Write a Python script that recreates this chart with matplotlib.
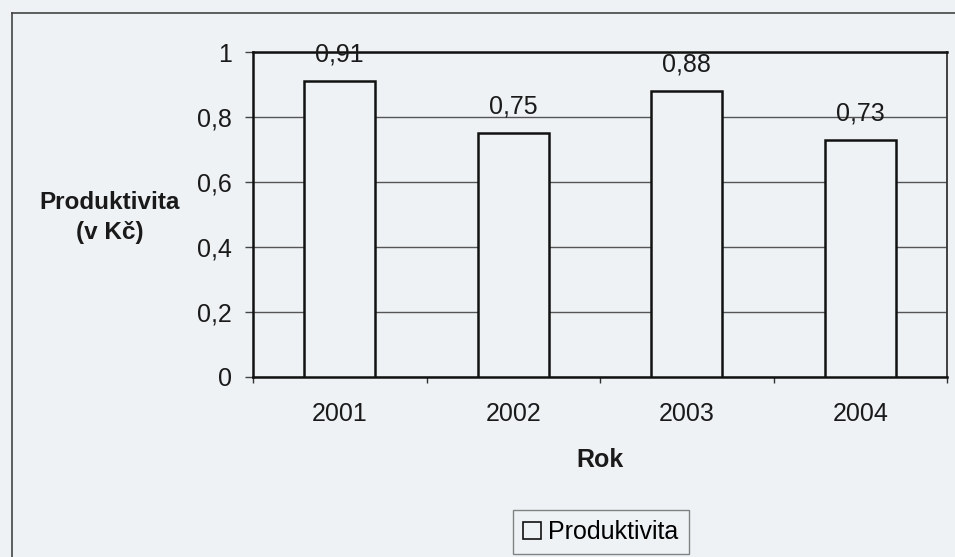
import matplotlib
matplotlib.use('Agg')
import matplotlib.pyplot as plt
from matplotlib.lines import Line2D
import numpy as np

# data
years = ['2001', '2002', '2003', '2004']
productivity = [0.91, 0.75, 0.88, 0.73]
y_ticks = [0, 0.2, 0.4, 0.6, 0.8, 1.0]
y_ticklabels = ['0', '0,2', '0,4', '0,6', '0,8', '1']
series_name = 'Produktivita'

bg = '#eef2f5'
plt.rcParams['font.family'] = ['Liberation Sans', 'DejaVu Sans']
fs = 18

W, H = 955, 557
fig = plt.figure(figsize=(W / 100, H / 100), dpi=100, facecolor=bg)
ax = fig.add_axes([253 / W, 1 - 377 / H, 694 / W, 325 / H], facecolor=bg)

x = np.arange(len(years))
bars = ax.bar(x, productivity, width=0.41, color=bg, edgecolor='#111111',
              linewidth=1.8, label=series_name, zorder=3)

# value labels above the bars
for xi, v in zip(x, productivity):
    ax.annotate(f'{v:.2f}'.replace('.', ','), (xi, v), xytext=(0, 14),
                textcoords='offset points', ha='center', va='baseline',
                fontsize=fs, color='#1a1a1a', zorder=4)

ax.set_xlim(-0.5, len(years) - 0.5)
ax.set_ylim(0, 1)
ax.set_yticks(y_ticks)
ax.set_yticklabels(y_ticklabels)
ax.set_xticks(x)
ax.set_xticklabels(years)
ax.set_xticks(np.arange(len(years) + 1) - 0.5, minor=True)

ax.tick_params(axis='x', which='major', length=0, pad=18, labelsize=fs,
               labelcolor='#1a1a1a')
ax.tick_params(axis='x', which='minor', length=4, width=1, color='#333333',
               direction='out')
ax.tick_params(axis='y', which='major', length=6, width=1, color='#444444',
               direction='out', pad=9, labelsize=fs, labelcolor='#1a1a1a')

ax.yaxis.grid(True, color='#555555', linewidth=1.0, zorder=1)
ax.set_axisbelow(True)

for side in ['left', 'bottom', 'top']:
    ax.spines[side].set_linewidth(1.8)
    ax.spines[side].set_color('#111111')
ax.spines['right'].set_linewidth(1.3)
ax.spines['right'].set_color('#333333')

ax.set_ylabel('Produktivita\n(v Kč)', rotation=0, fontsize=17.5, fontweight='bold',
              color='#1a1a1a', ha='center', va='center', multialignment='center',
              linespacing=1.4)
ax.yaxis.set_label_coords(-0.206, 0.49)
ax.set_xlabel('Rok', fontsize=fs, fontweight='bold', color='#1a1a1a',
              va='center')
ax.xaxis.set_label_coords(0.5, -0.255)

leg = fig.legend(handles=[bars], labels=[series_name], loc='center',
                 bbox_to_anchor=(601 / W, 1 - 532 / H), fontsize=fs,
                 frameon=True, fancybox=False, edgecolor='#666666',
                 facecolor=bg, handlelength=0.7, handleheight=0.7,
                 handletextpad=0.3, borderpad=0.4)
leg.get_frame().set_linewidth(1.0)
leg.legend_handles[0].set_linewidth(1.2)

# outer chart area border (cropped at right and bottom)
fig.add_artist(Line2D([12 / W, 1], [1 - 12.5 / H, 1 - 12.5 / H],
                      transform=fig.transFigure, color='#444444', linewidth=1.2))
fig.add_artist(Line2D([12 / W, 12 / W], [0, 1 - 12.5 / H],
                      transform=fig.transFigure, color='#444444', linewidth=1.2))

fig.savefig('out.png', dpi=100, facecolor=bg)
